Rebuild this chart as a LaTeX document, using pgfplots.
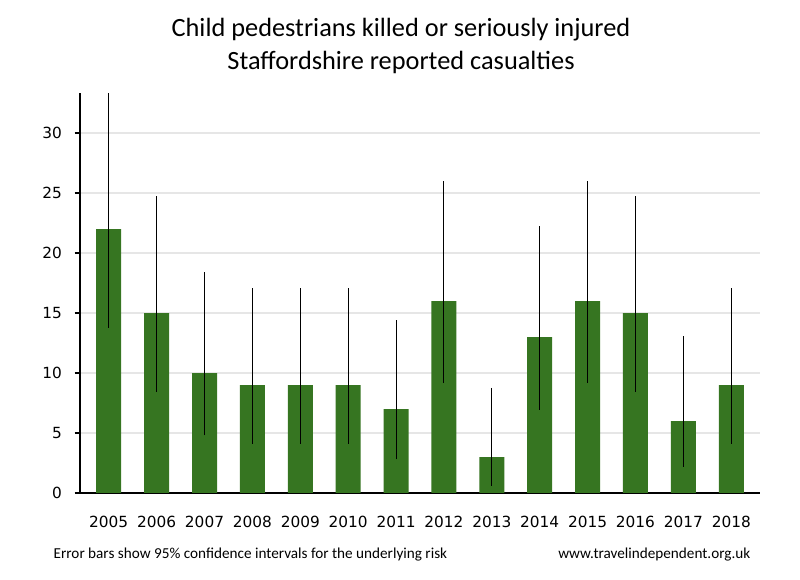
\documentclass[border=0pt]{standalone}
\usepackage{fontspec}
\setmainfont{Carlito}
\newfontfamily\tickfont{DejaVu Sans}
\usepackage{pgfplots}
\usepackage{pgfplotstable}
\pgfplotsset{compat=1.18}
\definecolor{bargreen}{HTML}{367521}
\definecolor{gridgray}{HTML}{E6E6E6}

% year, casualties, 95% interval (upper and lower distance)
\pgfplotstableread{
x year y ep em
0 2005 22 11.31 8.21
1 2006 15 9.74 6.60
2 2007 10 8.39 5.20
3 2008 9 8.08 4.88
4 2009 9 8.08 4.88
5 2010 9 8.08 4.88
6 2011 7 7.42 4.19
7 2012 16 9.98 6.85
8 2013 3 5.77 2.38
9 2014 13 9.23 6.08
10 2015 16 9.98 6.85
11 2016 15 9.74 6.60
12 2017 6 7.06 3.80
13 2018 9 8.08 4.88
}\casualties

\begin{document}
\begin{tikzpicture}
\useasboundingbox (0,0) rectangle (600pt,435pt);
\begin{axis}[
    at={(60pt,65.25pt)}, anchor=south west,
    scale only axis,
    width=510pt, height=300pt,
    xmin=-0.6, xmax=13.6,
    ymin=0, ymax=33.35,
    xtick=data,
    xticklabels={2005,2006,2007,2008,2009,2010,2011,2012,2013,2014,2015,2016,2017,2018},
    ytick={0,5,10,15,20,25,30},
    axis x line*=bottom,
    axis y line*=left,
    axis line style={black, line width=1.5pt},
    x tick style={draw=none},
    y tick style={black, line width=1.5pt},
    tick align=outside,
    major tick length=4pt,
    ymajorgrids=true,
    grid style={gridgray, line width=1.5pt},
    /pgf/number format/assume math mode=true,
    ticklabel style={font=\tickfont\fontsize{11.5}{13}\selectfont},
    xticklabel style={yshift=-10pt},
    yticklabel style={xshift=-6pt},
    clip=true,
]
\addplot[
    ybar, bar width=18.75pt, fill=bargreen, draw=none,
    error bars/.cd, y dir=both, y explicit, error mark=none,
    error bar style={black, line width=0.75pt}
] table[x=x, y=y, y error plus=ep, y error minus=em] {\casualties};
\end{axis}
\node[font=\fontsize{19.75}{23}\selectfont] at (300.75pt,412.5pt) {Child pedestrians killed or seriously injured};
\node[font=\fontsize{19.75}{23}\selectfont] at (300.75pt,388.5pt) {Staffordshire reported casualties};
\node[anchor=west, font=\fontsize{11.4}{13}\selectfont] at (36.75pt,18.75pt) {Error bars show 95\% confidence intervals for the underlying risk};
\node[anchor=east, font=\fontsize{11.4}{13}\selectfont] at (566.25pt,18.75pt) {www.travelindependent.org.uk};
\end{tikzpicture}
\end{document}
